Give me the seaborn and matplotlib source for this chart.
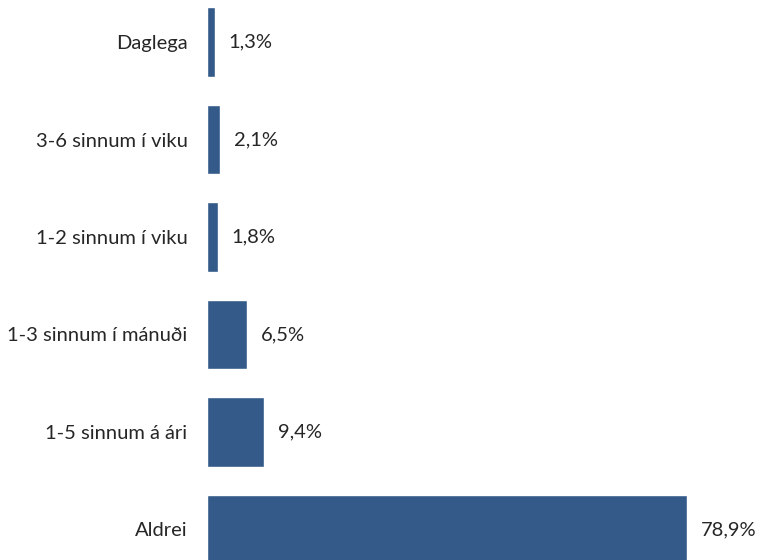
import matplotlib
matplotlib.use("Agg")
import matplotlib.pyplot as plt
import seaborn as sns
import pandas as pd

categories = ["Daglega", "3-6 sinnum í viku", "1-2 sinnum í viku",
              "1-3 sinnum í mánuði", "1-5 sinnum á ári", "Aldrei"]
values = [1.3, 2.1, 1.8, 6.5, 9.4, 78.9]

df = pd.DataFrame({"cat": categories, "val": values})

sns.set_style("white")
plt.rcParams["font.family"] = ["Lato", "DejaVu Sans"]

fig = plt.figure(figsize=(7.68, 5.6), dpi=100)
ax = fig.add_axes([207 / 768, 0, 1 - 207 / 768, 1])

sns.barplot(data=df, x="val", y="cat", color="#345a8a", saturation=1,
            width=0.71, ax=ax)

for i, v in enumerate(values):
    ax.annotate(f"{v:.1f}".replace(".", ",") + "%", (v, i),
                xytext=(10, 0), textcoords="offset points",
                va="center", ha="left", fontsize=14.5)

ax.set_xlim(0, 92.2)
ax.set_ylim(5.313, -0.431)
ax.set_xlabel("")
ax.set_ylabel("")
ax.set_xticks([])
ax.tick_params(axis="y", length=0, pad=14, labelsize=14.5)
sns.despine(ax=ax, left=True, bottom=True)

fig.savefig("out.png", dpi=100)
